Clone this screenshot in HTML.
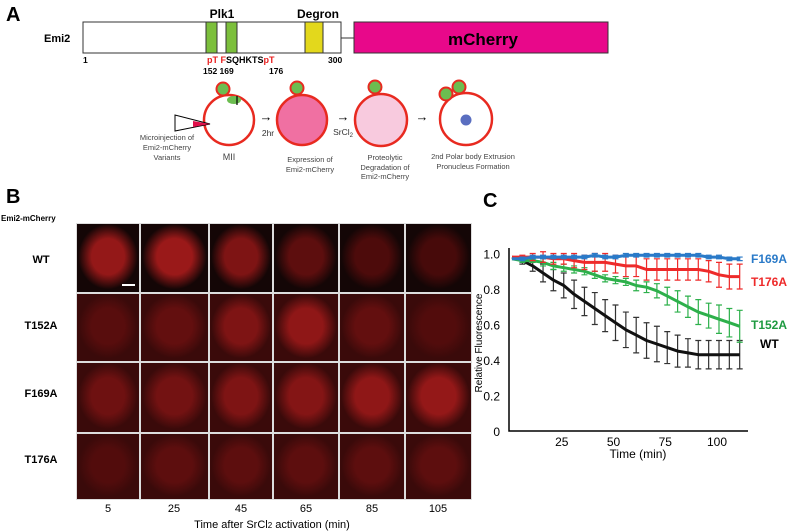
<!DOCTYPE html>
<html><head><meta charset="utf-8">
<style>
body{margin:0;background:#fff;width:787px;height:532px;overflow:hidden;position:relative;font-family:"Liberation Sans",Arial,sans-serif}
.cell{position:absolute;box-sizing:border-box;border:1px solid #ddd}
</style></head><body>
<svg width="787" height="532" style="position:absolute;left:0;top:0">
 <g>
  <text x="6" y="21" font-size="20" font-weight="bold">A</text>
  <text x="44" y="42" font-size="11" font-weight="bold">Emi2</text>
  <rect x="83" y="22" width="258" height="31" fill="#fff" stroke="#333" stroke-width="1"/>
  <rect x="206" y="22" width="11" height="31" fill="#7cbf3c" stroke="#333"/>
  <rect x="226" y="22" width="11" height="31" fill="#7cbf3c" stroke="#333"/>
  <rect x="305" y="22" width="18" height="31" fill="#e3d81c" stroke="#333"/>
  <line x1="341" y1="38" x2="354" y2="38" stroke="#333"/>
  <rect x="354" y="22" width="254" height="31" fill="#e8088a" stroke="#333"/>
  <text x="483" y="45" font-size="17" font-weight="bold" text-anchor="middle">mCherry</text>
  <text x="222" y="18" font-size="12" font-weight="bold" text-anchor="middle">Plk1</text>
  <text x="318" y="18" font-size="12" font-weight="bold" text-anchor="middle">Degron</text>
  <text x="83" y="63" font-size="8.5" font-weight="bold">1</text>
  <text x="328" y="63" font-size="8.5" font-weight="bold">300</text>
  <text x="207" y="63" font-size="9" font-weight="bold"><tspan fill="#e82020">pT</tspan>  <tspan fill="#e82020">F</tspan>SQHKTS<tspan fill="#e82020">pT</tspan></text>
  <text x="203" y="74" font-size="8.5" font-weight="bold">152 169</text>
  <text x="269" y="74" font-size="8.5" font-weight="bold">176</text>
  <circle cx="229" cy="120" r="25" fill="#fff" stroke="#e82a20" stroke-width="2.5"/>
  <circle cx="223" cy="89" r="6.5" fill="#6cbd50" stroke="#e82a20" stroke-width="2"/>
  <ellipse cx="234" cy="100" rx="7" ry="4" fill="#6cbd50"/>
  <line x1="237" y1="96" x2="237" y2="105" stroke="#000" stroke-width="1.2"/>
  <polygon points="175,115 175,131 210,124" fill="#fff" stroke="#000"/>
  <polygon points="193,121 193,127 210,124" fill="#e0104a"/>
  <g font-size="7.5" fill="#444" text-anchor="middle">
  <text x="167" y="140">Microinjection of</text>
  <text x="167" y="150">Emi2-mCherry</text>
  <text x="167" y="160">Variants</text>
  <text x="310" y="162">Expression of</text>
  <text x="310" y="172">Emi2-mCherry</text>
  <text x="385" y="160">Proteolytic</text>
  <text x="385" y="170">Degradation of</text>
  <text x="385" y="179">Emi2-mCherry</text>
  <text x="473" y="159">2nd Polar body Extrusion</text>
  <text x="473" y="169">Pronucleus Formation</text>
  </g>
  <text x="229" y="160" font-size="9" fill="#444" text-anchor="middle">MII</text>
  <text x="266" y="121" font-size="13" font-weight="bold" text-anchor="middle">→</text>
  <text x="268" y="136" font-size="8.5" fill="#333" text-anchor="middle">2hr</text>
  <circle cx="302" cy="120" r="25" fill="#f070a2" stroke="#e82a20" stroke-width="2.5"/>
  <circle cx="297" cy="88" r="6.5" fill="#6cbd50" stroke="#e82a20" stroke-width="2"/>
  <text x="343" y="121" font-size="13" font-weight="bold" text-anchor="middle">→</text>
  <text x="343" y="135" font-size="8.5" fill="#333" text-anchor="middle">SrCl<tspan font-size="6" dy="2">2</tspan></text>
  <circle cx="381" cy="120" r="26" fill="#f8cade" stroke="#e82a20" stroke-width="2.5"/>
  <circle cx="375" cy="87" r="6.5" fill="#6cbd50" stroke="#e82a20" stroke-width="2"/>
  <text x="422" y="121" font-size="13" font-weight="bold" text-anchor="middle">→</text>
  <circle cx="466" cy="119" r="26" fill="#fff" stroke="#e82a20" stroke-width="2.5"/>
  <circle cx="446" cy="94" r="6.5" fill="#6cbd50" stroke="#e82a20" stroke-width="2"/>
  <circle cx="459" cy="87" r="6.5" fill="#6cbd50" stroke="#e82a20" stroke-width="2"/>
  <circle cx="466" cy="120" r="5.5" fill="#5a6ec0"/>
 </g>
 <text x="6" y="203" font-size="20" font-weight="bold">B</text>
 <text x="1" y="221" font-size="8" font-weight="bold">Emi2-mCherry</text>
 <text x="41" y="263" font-size="11" font-weight="bold" text-anchor="middle">WT</text>
 <text x="41" y="329" font-size="11" font-weight="bold" text-anchor="middle">T152A</text>
 <text x="41" y="397" font-size="11" font-weight="bold" text-anchor="middle">F169A</text>
 <text x="41" y="463" font-size="11" font-weight="bold" text-anchor="middle">T176A</text>
 <g font-size="11" text-anchor="middle">
  <text x="108" y="512">5</text><text x="174" y="512">25</text><text x="241" y="512">45</text>
  <text x="306" y="512">65</text><text x="372" y="512">85</text><text x="438" y="512">105</text>
 </g>
 <text x="272" y="528" font-size="11" text-anchor="middle">Time after SrCl<tspan font-size="8">2</tspan> activation (min)</text>
 <text x="483" y="207" font-size="20" font-weight="bold">C</text>
 <g id="chart"></g>
</svg>
<div id="grid"></div>
<script>
const times=[0,5,10,15,20,25,30,35,40,45,50,55,60,65,70,75,80,85,90,95,100,105,110];
const wtVals=[0.98,0.96,0.93,0.89,0.85,0.82,0.77,0.73,0.69,0.65,0.61,0.57,0.54,0.51,0.49,0.47,0.45,0.44,0.43,0.43,0.43,0.43,0.43];
const wtErr=[0.01,0.02,0.03,0.05,0.06,0.07,0.08,0.08,0.09,0.09,0.1,0.1,0.1,0.1,0.1,0.09,0.09,0.08,0.08,0.08,0.08,0.08,0.08];
const t152Vals=[0.97,0.96,0.96,0.95,0.93,0.92,0.91,0.9,0.88,0.86,0.85,0.84,0.82,0.81,0.79,0.76,0.73,0.7,0.67,0.65,0.63,0.61,0.59];
const t152Err=[0.01,0.01,0.01,0.02,0.02,0.02,0.02,0.02,0.02,0.02,0.02,0.02,0.03,0.03,0.04,0.05,0.06,0.06,0.07,0.07,0.08,0.08,0.09];
const t176Vals=[0.98,0.98,0.98,0.98,0.97,0.97,0.96,0.95,0.95,0.95,0.94,0.93,0.93,0.91,0.91,0.91,0.91,0.91,0.91,0.9,0.88,0.87,0.87];
const t176Err=[0.01,0.01,0.02,0.03,0.03,0.03,0.04,0.04,0.05,0.05,0.05,0.06,0.06,0.06,0.06,0.06,0.06,0.06,0.06,0.06,0.07,0.07,0.07];
const f169Vals=[0.97,0.97,0.98,0.98,0.98,0.98,0.98,0.98,0.99,0.98,0.98,0.99,0.99,0.99,0.99,0.99,0.99,0.99,0.99,0.98,0.98,0.97,0.97];
const f169Err=[0.01,0.01,0.01,0.01,0.01,0.01,0.01,0.01,0.01,0.01,0.01,0.01,0.01,0.01,0.01,0.01,0.01,0.01,0.01,0.01,0.01,0.01,0.01];
const seriesNames=["WT","T152A","T176A","F169A"];
const yTicks=[0,0.2,0.4,0.6,0.8,1.0];
const yTickLabels=["0","0.2","0.4","0.6","0.8","1.0"];
const xTicks=[25,50,75,100];
const xTickLabels=["25","50","75","100"];
const NS="http://www.w3.org/2000/svg";
const X=t=>512+t*2.07;
const Y=v=>431-v*177.5;
const g=document.getElementById('chart');
function mk(tag,attrs){const e=document.createElementNS(NS,tag);for(const k in attrs)e.setAttribute(k,attrs[k]);g.appendChild(e);return e;}
let ax=mk('path',{d:`M509,248 L509,431 L748,431`,fill:'none',stroke:'#000','stroke-width':1.5});


yTicks.forEach((v,i)=>{const t=mk('text',{x:500,y:Y(v)+5,'font-size':12,'text-anchor':'end'});t.textContent=yTickLabels[i];

});
xTicks.forEach((v,i)=>{const t=mk('text',{x:X(v)-2,y:446,'font-size':12,'text-anchor':'middle'});t.textContent=xTickLabels[i];

});
let xt=mk('text',{x:638,y:458,'font-size':12,'text-anchor':'middle'});xt.textContent='Time (min)';


let yt=mk('text',{x:0,y:0,'font-size':10,'text-anchor':'middle',transform:'translate(482,343) rotate(-90)'});yt.textContent='Relative Fluorescence';


const cfg=[[wtVals,wtErr,'#111',"WT",760,348,'#000'],[t152Vals,t152Err,'#2db04b',"T152A",751,329,'#1e9a40'],[t176Vals,t176Err,'#ee2a2a',"T176A",751,286,'#ee2a2a'],[f169Vals,f169Err,'#2a7ac8',"F169A",751,263,'#2a7ac8']];
cfg.forEach(([vals,err,col,name,lx,ly,lc])=>{
 const bars=mk('g',{stroke:col==='#111'?'#333':col,'stroke-width':1.2});
 
 
 times.forEach((t,i)=>{if(i===0)return;const x=X(t),a=Y(vals[i]+err[i]),b=Y(vals[i]-err[i]);
  const p=document.createElementNS(NS,'path');p.setAttribute('d',`M${x},${a}V${b}M${x-3},${a}h6M${x-3},${b}h6`);bars.appendChild(p);});
 const d=times.map((t,i)=>(i?'L':'M')+X(t).toFixed(1)+','+Y(vals[i]).toFixed(1)).join(' ');
 const ln=mk('path',{d:d,fill:'none',stroke:col,'stroke-width':3,'stroke-linejoin':'round'});
 
 
 const lb=mk('text',{x:lx,y:ly,'font-size':12,'font-weight':'bold',fill:lc});lb.textContent=name;
 
 
});
const cols=[76,140,209,273,339,405,472];
const rows=[223,293,362,433,500];
const rowNames=["wt","t152a","f169a","t176a"];
const inten=[[0.8,0.85,0.6,0.3,0.15,0.1],[0.25,0.35,0.6,0.75,0.35,0.2],[0.45,0.5,0.6,0.65,0.75,0.8],[0.2,0.3,0.3,0.3,0.3,0.3]];
const grid=document.getElementById('grid');
for(let r=0;r<4;r++)for(let c=0;c<6;c++){
 const d=document.createElement('div');d.className='cell';
 
 
 const k=inten[r][c];
 const bg=r===0?'#140606':'#3a0a0a';
 const cr=Math.round(60+k*110),cg=Math.round(8+k*20),cb=Math.round(8+k*20);
 d.style.cssText=`left:${cols[c]}px;top:${rows[r]}px;width:${cols[c+1]-cols[c]}px;height:${rows[r+1]-rows[r]}px;background:radial-gradient(ellipse 48% 48% at 50% 48%, rgb(${cr},${cg},${cb}) 0%, rgb(${cr},${cg},${cb}) 55%, ${bg} 100%);`;
 grid.appendChild(d);
}
const sb=document.createElement('div');


sb.style.cssText='position:absolute;left:122px;top:284px;width:13px;height:2px;background:#fff';
grid.appendChild(sb);
</script>
</body></html>
